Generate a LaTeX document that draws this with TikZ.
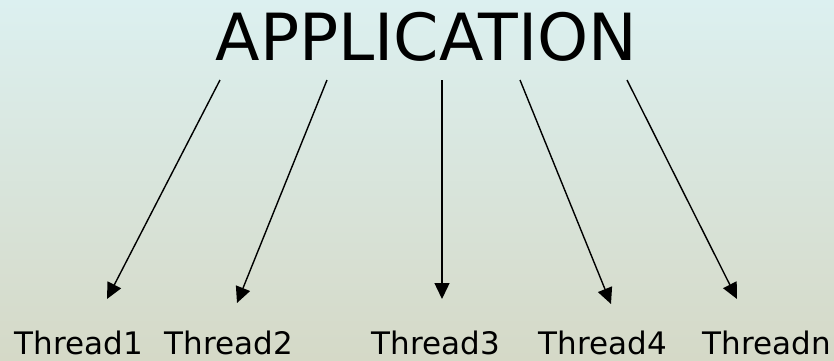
\documentclass[tikz,border=0pt]{standalone}
\usepackage{fontspec}
\setmainfont{DejaVu Sans}
\usetikzlibrary{arrows.meta}
\definecolor{bgtop}{HTML}{DCF0F0}
\definecolor{bgmid}{HTML}{D8E9E1}
\definecolor{bgbot}{HTML}{D5D9C7}
\tikzset{
  title/.style={inner sep=0pt, anchor=base, font=\fontsize{65}{78}\selectfont},
  threadlbl/.style={inner sep=0pt, anchor=base, font=\fontsize{31}{37}\selectfont},
  link/.style={line width=1.4pt, -{Triangle[length=16pt,width=15pt]}}
}
\begin{document}
\begin{tikzpicture}[x=1pt,y=-1pt]
\shade[top color=bgtop, middle color=bgmid, bottom color=bgbot] (0pt,0pt) rectangle (834pt,-360pt);
\useasboundingbox (0,0) rectangle (834,360);
\node[title] (app) at (426.5,60) {APPLICATION};
\node[threadlbl] (t1) at (79,354) {Thread1};
\node[threadlbl] (t2) at (229,354) {Thread2};
\node[threadlbl] (t3) at (436,354) {Thread3};
\node[threadlbl] (t4) at (603,354) {Thread4};
\node[threadlbl] (tn) at (767,354) {Threadn};
\coordinate (s1) at (220,80);
\coordinate (s2) at (327,80);
\coordinate (s3) at (442,80);
\coordinate (s4) at (520,80);
\coordinate (s5) at (627,80);
\coordinate (e1) at (107,299);
\coordinate (e2) at (237,303);
\coordinate (e3) at (442,299);
\coordinate (e4) at (611,304);
\coordinate (e5) at (737,299);
\draw[link] (s1) -- (e1);
\draw[link] (s2) -- (e2);
\draw[link] (s3) -- (e3);
\draw[link] (s4) -- (e4);
\draw[link] (s5) -- (e5);
\end{tikzpicture}
\end{document}
